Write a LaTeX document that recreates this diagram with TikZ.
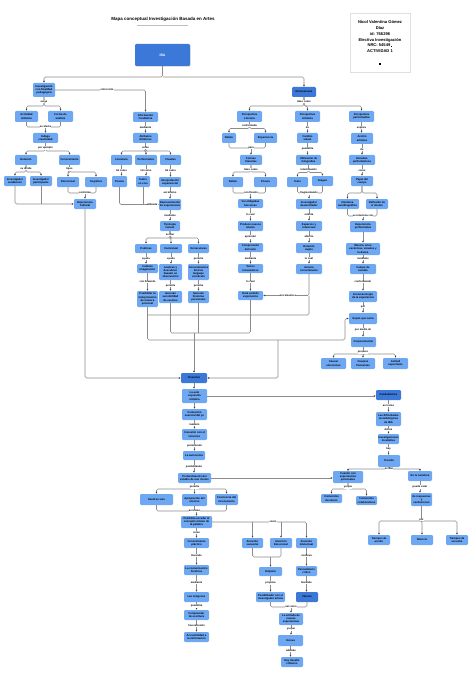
\documentclass[tikz,border=0pt]{standalone}
\usepackage{fontspec}
\setmainfont{Liberation Sans}
\usetikzlibrary{arrows.meta,shadows}
\definecolor{lbc}{HTML}{6FA8F2}
\definecolor{dbc}{HTML}{3C78D8}
\definecolor{lnc}{HTML}{8C8C8C}
\tikzset{
 bxs/.style={fill=lbc, rounded corners=1.2pt, inner sep=0.3pt, align=center, font=\fontsize{2.7}{3.2}\selectfont\bfseries},
 dbx/.style={bxs, fill=dbc},
 ibas/.style={bxs, fill=dbc, text=white, font=\fontsize{3.4}{4}\selectfont\bfseries, drop shadow={opacity=0.25,shadow xshift=0.6pt,shadow yshift=-0.8pt}},
 lbl/.style={fill=white, inner sep=0.3pt, font=\fontsize{2.6}{3}\selectfont\bfseries},
 ln/.style={draw=lnc, line width=0.6pt, rounded corners=1.5pt},
 arr/.style={ln, -{Latex[length=2pt,width=2pt,color=black!75]}},
}
\newcommand\bx[7][bxs]{\node[#1,minimum width={(#4-#3)*1pt},minimum height={(#6-#5)*1pt}] (#2) at ({(#3+#4)/2},{(#5+#6)/2}) {#7};}
\newcommand\tr[3]{\draw[arr] (#1.south) -- (#1.south|-0,#2) -| (#3.north);}
\newcommand\st[2]{\draw[arr] (#1.south) -- (#1.south|-#2.north);}
\newcommand\mg[4]{\draw[ln] (#1.south) |- (#2.south|-0,#3) -- (#2.south); \draw[arr] (#4.north|-0,#3) -- (#4.north);}
\newcommand\lb[3]{\node[lbl] at (#1,#2) {#3};}
\begin{document}
\begin{tikzpicture}[x=1pt,y=-1pt]
\useasboundingbox (0,0) rectangle (474,679);
% title
\node[font=\fontsize{4.5}{5.4}\selectfont\bfseries] (title) at (163,19) {Mapa conceptual Investigación Basada en Artes};
\draw[black!25, line width=0.8pt] (137,25) -- (188,25);
% info
\node[draw=black!12, fill=white, drop shadow={opacity=0.2,shadow xshift=0.6pt,shadow yshift=-0.8pt}, minimum width=60pt, minimum height=59pt, align=center, font=\fontsize{4.1}{5.9}\selectfont\bfseries] (info) at (380,42.5) {Nicol Valentina Gómez\\Díaz\\id: 766296\\Electiva Investigación\\NRC: 54549 \rule{1pt}{1pt}\\ACTIVIDAD 1\\[5.9pt]\rule{1.5pt}{1.5pt}};
% boxes
\bx[ibas]{iba}{135}{190}{44}{66}{IBA}
\bx{inv}{33}{55}{83}{97}{Investigación\\con finalidad\\pedagógica}
\bx{act}{15}{38}{111}{122}{Actividad\\Artística}
\bx{forma}{48}{73}{111}{122}{Forma de\\análisis}
\bx{indaga}{33}{58}{133}{143}{Indaga\\creatividad}
\bx{rel}{15}{37}{155}{165}{Relación}
\bx{conoc}{59}{80}{155}{165}{Conocimiento}
\bx{iacad}{4}{26}{176}{186}{Investigador\\académico}
\bx{ipart}{30}{52}{176}{186}{Investigador\\participante}
\bx{emo}{57}{79}{177}{187}{Emocional}
\bx{cog}{85}{107}{177}{187}{Cognitivo}
\bx{expc}{74}{96}{199}{209}{Experiencia\\Cultural}
\bx{infc}{133}{158}{112}{122}{Información\\Cualitativa}
\bx{atr}{133}{158}{133}{143}{Atributos\\Artísticos}
\bx{lit}{111}{132}{155}{165}{Literatura}
\bx{perf}{135}{157}{155}{165}{Performativo}
\bx{vis}{160}{181}{155}{165}{Visuales}
\bx{poesia}{112}{127}{176}{187}{Poesía}
\bx{teatro}{136}{150}{176}{187}{Teatro\\en vivo}
\bx{interp}{159}{181}{177}{187}{Interpretación\\experiencial}
\bx{repr}{159}{181}{199}{210}{Representación\\de experiencias}
\bx{tipo}{160}{180}{221}{231}{Tipología\\textual}
\bx{poet}{135}{157}{244}{253}{Poéticas}
\bx{context}{160}{182}{244}{253}{Contextual}
\bx{vern}{188}{209}{244}{253}{Vernaculares}
\bx{cult}{137}{158}{264}{273}{Cultivan\\imaginación}
\bx{anal}{159}{182}{264}{280}{Analizan y\\descubren\\basado en\\observación}
\bx{etn}{188}{209}{264}{280}{Conocimientos\\étnicos\\lenguaje\\vernáculo}
\bx{posib}{137}{158}{291}{307}{Posibilitar la\\interpretación\\de manera\\personal}
\bx{gsens}{159}{182}{291}{303}{Generan\\sensibilidad\\de eventos}
\bx{ghist}{188}{209}{291}{303}{Generan\\historias\\personales}
\bx[dbx]{dim}{292}{316}{87}{97}{Dimensiones}
\bx{plit}{237}{262}{111}{122}{Perspectiva\\Literaria}
\bx{part}{295}{320}{111}{122}{Perspectiva\\Artística}
\bx{pperf}{349}{374}{111}{122}{Perspectiva\\performativa}
\bx{relato}{222}{236}{133}{143}{Relato}
\bx{exper}{254}{277}{133}{143}{Experiencia}
\bx{formlit}{240}{262}{155}{165}{Formas\\literarias}
\bx{relato2}{223}{243}{177}{187}{Relato}
\bx{poesia2}{254}{277}{177}{187}{Poesía}
\bx{oblig}{238}{263}{199}{208}{Ver obligadas\\funciones}
\bx{nuevos}{238}{263}{221}{231}{Produce nuevos\\relatos}
\bx{compr}{238}{263}{243}{252}{Comprensión\\del texto}
\bx{textos}{238}{263}{264}{273}{Textos\\innovadores}
\bx{dota}{238}{263}{291}{300}{Dota sentido\\experiencia}
\bx{cambio}{297}{318}{133}{143}{Cambio\\visual}
\bx{util}{296}{321}{155}{165}{Utilización de\\fotografías}
\bx{texto}{287}{308}{177}{187}{Texto}
\bx{imagen}{312}{333}{176}{186}{Imagen}
\bx{idesa}{296}{322}{199}{209}{Investigador\\desarrollador}
\bx{espac}{296}{322}{221}{231}{Espacios y\\relaciones}
\bx{relsuj}{296}{322}{243}{253}{Relación\\sujeto}
\bx{genc}{296}{322}{264}{274}{Genera\\conocimiento}
\bx{accion}{351}{373}{133}{144}{Acción\\artística}
\bx{estud}{349}{375}{155}{165}{Estudios\\performativos}
\bx{papel}{351}{373}{176}{186}{Papel del\\cuerpo}
\bx{narr}{336}{359}{199}{209}{Narrativa\\autobiográfica}
\bx{refl}{366}{388}{199}{209}{Reflexión de\\sí mismo}
\bx{expp}{350}{376}{221}{232}{Experiencia\\performativa}
\bx{musica}{346}{380}{243}{255}{Música, artes\\escénicas, visuales y\\la danza}
\bx{campo}{350}{376}{264}{274}{Campo de\\estudio}
\bx{fenom}{349}{377}{291}{302}{Fenomenología\\de la experiencia}
\bx{sujeto}{349}{377}{313}{324}{Sujeto que narra}
\bx{corp}{351}{376}{337}{347}{Corporeización}
\bx{causar}{321}{346}{358}{369}{Causar\\emociones}
\bx{cuerpos}{351}{375}{358}{369}{Cuerpos\\Pensantes}
\bx{actitud}{383}{408}{358}{369}{Actitud\\expectante}
\bx[dbx]{viv}{181}{207}{373}{383}{Vivencias}
\bx{auto}{182}{207}{389}{403}{La auto\\expresión\\artística}
\bx{formac}{182}{207}{409}{420}{Formación\\esencial del yo}
\bx{conex}{182}{207}{429}{440}{Conexión con el\\Universo}
\bx{auton}{183}{205}{451}{460}{La autonomía}
\bx{prof}{178}{211}{473}{483}{Profundización del\\estudio de uno mismo}
\bx{sentir}{140}{173}{494}{505}{Sentirse vivo}
\bx{apro}{182}{207}{494}{506}{Apropiación del\\entorno}
\bx{conc}{215}{238}{494}{505}{Conciencia del\\inconsciente}
\bx{posac}{181}{212}{516}{528}{Posibilita acceder al\\concepto mismo de\\la palabra}
\bx{conpr}{184}{209}{538}{548}{Conocimiento\\práctico}
\bx{comh}{184}{209}{565}{575}{La comunicación\\histórica}
\bx{imgs}{184}{209}{592}{602}{Las imágenes}
\bx{compesc}{184}{209}{610}{620}{Comprender\\de escritura}
\bx{acces}{184}{209}{632}{642}{Accesibilidad a\\la información}
\bx{atsens}{242}{263}{538}{548}{Atención\\sensorial}
\bx{atemo}{270}{292}{538}{548}{Atención\\Emocional}
\bx{atint}{296}{317}{538}{548}{Atención\\Intelectual}
\bx{empat}{259}{282}{567}{576}{Empatía}
\bx{posinv}{256}{285}{592}{602}{Posibilitador con el\\investigador artista}
\bx{pens}{296}{317}{566}{576}{Pensamiento\\crítico}
\bx[dbx]{valor}{296}{318}{592}{602}{Valores}
\bx{entrada}{279}{303}{613}{625}{La entrada de\\nuevas\\experiencias}
\bx{innova}{278}{303}{635}{646}{Innova}
\bx{desaf}{281}{303}{657}{667}{Hay desafío\\reflexivo}
\bx[dbx]{fund}{376}{401}{390}{400}{Fundamentos}
\bx{dific}{376}{401}{412}{426}{Las dificultades\\metodológicas\\de IBA}
\bx{inest}{378}{399}{434}{444}{Investigaciones\\Inestables}
\bx{tens}{378}{400}{455}{467}{Tensión}
\bx{cuando}{333}{363}{471}{483}{Cuando son\\experiencias\\personales}
\bx{narrat}{408}{432}{471}{481}{En la narrativa}
\bx{contd}{321}{342}{494}{503}{Contenidos\\decisivos}
\bx{contc}{356}{377}{496}{505}{Contenidos\\colaborativos}
\bx{resp}{411}{432}{493}{506}{de respuestas\\y\\cavilaciones}
\bx{tacc}{368}{390}{535}{545}{Tiempos de\\acción}
\bx{silen}{411}{433}{535}{545}{Silencio}
\bx{tesc}{446}{468}{535}{545}{Tiempos de\\escucha}
% connectors
\draw[arr] (iba.south) -- (iba.south|-0,77) -| (inv.north);
\draw[arr] (iba.south|-0,77) -| (dim.north);
\draw[arr] (inv.east) -| (infc.north);
\tr{inv}{106}{act}\tr{inv}{106}{forma}
\mg{act}{forma}{127}{indaga}
\tr{indaga}{151}{rel}\tr{indaga}{151}{conoc}
\tr{rel}{172}{iacad}\tr{rel}{172}{ipart}
\tr{conoc}{172}{emo}\tr{conoc}{172}{cog}
\mg{emo}{cog}{193}{expc}
\draw[arr] (iacad.south) |- (expc.west);
\draw[ln] (ipart.south) -- (ipart.south|-expc.west);
\draw[arr] (expc.south) |- (viv.west);
\st{infc}{atr}
\tr{atr}{151}{lit}\tr{atr}{151}{perf}\tr{atr}{151}{vis}
\st{lit}{poesia}\st{perf}{teatro}\st{vis}{interp}
\draw[arr] (poesia.south) |- (repr.west);
\draw[ln] (teatro.south) -- (teatro.south|-repr.west);
\st{interp}{repr}\st{repr}{tipo}
\tr{tipo}{238}{poet}\tr{tipo}{238}{context}\tr{tipo}{238}{vern}
\st{poet}{cult}\st{cult}{posib}\st{context}{anal}\st{anal}{gsens}\st{vern}{etn}\st{etn}{ghist}
\tr{dim}{106}{plit}\tr{dim}{106}{part}\tr{dim}{106}{pperf}
\tr{plit}{128.5}{relato}\tr{plit}{128.5}{exper}
\mg{relato}{exper}{148}{formlit}
\tr{formlit}{172}{relato2}\tr{formlit}{172}{poesia2}
\mg{relato2}{poesia2}{193}{oblig}
\st{oblig}{nuevos}\st{nuevos}{compr}\st{compr}{textos}\st{textos}{dota}
\st{part}{cambio}\st{cambio}{util}
\tr{util}{172.5}{texto}\tr{util}{172.5}{imagen}
\mg{texto}{imagen}{193}{idesa}
\st{idesa}{espac}\st{espac}{relsuj}\st{relsuj}{genc}
\draw[arr] (genc.south) |- (dota.east);
\draw[ln] (genc.south|-dota.east) |- (posib.south|-0,315);
\draw[arr] (posib.south) |- (345,340) |- (sujeto.west);
\draw[arr] (278,340) |- (viv.east);
\draw[ln] (gsens.south) |- (dota.south|-0,333) -- (dota.south);
\draw[ln] (ghist.south) -- (ghist.south|-0,333);
\draw[arr] (viv.north|-0,333) -- (viv.north);
\st{pperf}{accion}\st{accion}{estud}\st{estud}{papel}
\tr{papel}{193}{narr}\tr{papel}{193}{refl}
\mg{narr}{refl}{216}{expp}
\st{expp}{musica}\st{musica}{campo}\st{campo}{fenom}\st{fenom}{sujeto}\st{sujeto}{corp}
\tr{corp}{354}{causar}\tr{corp}{354}{cuerpos}\tr{corp}{354}{actitud}
\st{viv}{auto}
\draw[arr] (auto.east) -- (auto.east-|fund.west);
\st{auto}{formac}\st{formac}{conex}\st{conex}{auton}\st{auton}{prof}
\draw[arr] (prof.east) -- (prof.east-|cuando.west);
\tr{prof}{489}{sentir}\tr{prof}{489}{apro}\tr{prof}{489}{conc}
\mg{sentir}{conc}{511}{posac}
\draw[ln] (apro.south) -- (apro.south|-0,511);
\st{posac}{conpr}\st{conpr}{comh}\st{comh}{imgs}\st{imgs}{compesc}\st{compesc}{acces}
\draw[arr] (posac.east) -| (atint.north);
\draw[arr] (posac.east-|atsens.north) -- (atsens.north);
\draw[arr] (posac.east-|atemo.north) -- (atemo.north);
\mg{atsens}{atemo}{557}{empat}
\st{empat}{posinv}\st{atint}{pens}\st{pens}{valor}
\mg{posinv}{valor}{607}{entrada}
\st{entrada}{innova}\st{innova}{desaf}
\st{fund}{dific}\st{dific}{inest}\st{inest}{tens}
\tr{tens}{469}{cuando}\tr{tens}{469}{narrat}
\tr{cuando}{489}{contd}\tr{cuando}{489}{contc}
\st{narrat}{resp}
\tr{resp}{521}{tacc}\tr{resp}{521}{silen}\tr{resp}{521}{tesc}
% labels
\lb{107}{90}{entre todo}
\lb{44}{101.5}{exige}
\lb{45.5}{127}{se afecta}
\lb{45.5}{148}{por ejemplo}
\lb{26}{169}{se divide}
\lb{69.5}{169}{tipos}
\lb{85}{193}{conforma}
\lb{145.5}{127.5}{mediante}
\lb{145.5}{148}{como}
\lb{121.5}{170.5}{tal como}
\lb{146}{170.5}{tal como}
\lb{170.5}{170.5}{tal como}
\lb{152}{204.5}{utilizada}
\lb{170}{193}{así mismo}
\lb{170}{215.5}{mediante}
\lb{170}{235}{se dan}
\lb{146}{258.5}{ayuda}
\lb{147.5}{282}{con llevando}
\lb{171}{258.5}{ayuda}
\lb{170.5}{285.5}{permite}
\lb{198.5}{258.5}{permite}
\lb{198.5}{285.5}{permite}
\lb{304}{101.5}{tales como}
\lb{249.5}{125.5}{conformada}
\lb{251}{148}{para}
\lb{251}{169.5}{tales como}
\lb{251}{193}{con flexión}
\lb{250.5}{214.5}{lo cual}
\lb{250.5}{237}{aprender}
\lb{250.5}{258.5}{mediante}
\lb{250.5}{282}{lo cual}
\lb{307.5}{127.5}{de}
\lb{307.5}{149}{posibilita}
\lb{308.5}{170}{relacionando}
\lb{309}{193}{fragmentando}
\lb{309}{215}{orienta}
\lb{309}{237}{abierto}
\lb{309}{258.5}{lo cual}
\lb{288}{295.5}{incrementa a}
\lb{361.5}{127.5}{explora}
\lb{362}{149.5}{de}
\lb{362}{170.5}{como}
\lb{363}{216}{se relaciona con}
\lb{363}{259}{mediante}
\lb{363}{282}{conformando}
\lb{363}{307}{por}
\lb{363}{329.5}{por medio de}
\lb{363}{352}{produce}
\lb{194.5}{424.5}{también}
\lb{194.5}{445.5}{permitiendo}
\lb{194}{466.5}{posibilitando}
\lb{194.5}{487}{permite}
\lb{194.5}{511}{así como}
\lb{196.5}{532.5}{como}
\lb{196.5}{555.5}{llevando}
\lb{196.5}{582.5}{mediante}
\lb{196.5}{606}{posibilita}
\lb{196.5}{626}{favoreciendo}
\lb{273}{522}{como}
\lb{270.5}{583}{propicia}
\lb{306.5}{556}{conlleva}
\lb{306.5}{583}{llevando}
\lb{291}{607}{así como}
\lb{291}{629.5}{ya que}
\lb{291}{651}{además}
\lb{388.5}{405.5}{así como}
\lb{388.5}{429.5}{define}
\lb{388.5}{449}{hay}
\lb{389}{469}{se dan}
\lb{348}{487.5}{ya que}
\lb{420}{487}{puede estar}
\lb{421.5}{520}{por}
\end{tikzpicture}
\end{document}
